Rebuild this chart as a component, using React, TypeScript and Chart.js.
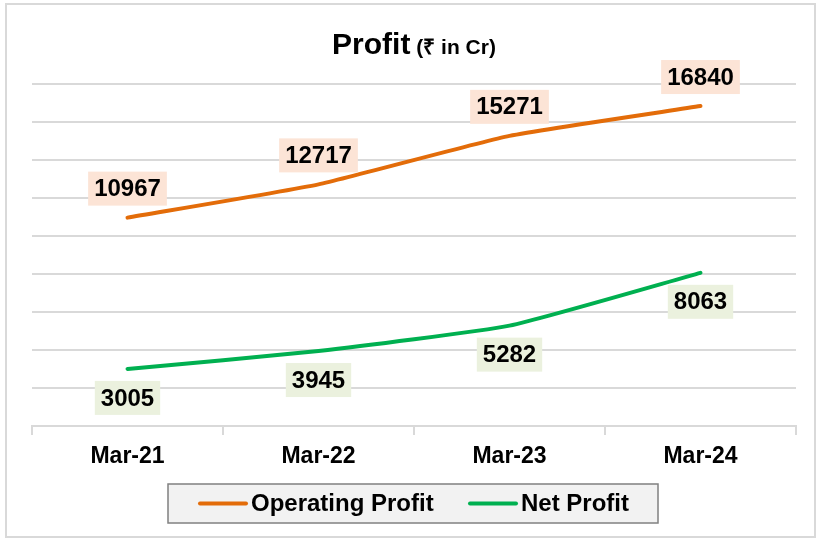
import React, { useEffect, useRef } from "react";
import { Chart, registerables } from "chart.js";

Chart.register(...registerables);

const categories = ["Mar-21", "Mar-22", "Mar-23", "Mar-24"];
const operatingProfit = [10967, 12717, 15271, 16840];
const netProfit = [3005, 3945, 5282, 8063];
const seriesNames = ["Operating Profit", "Net Profit"];
const titleMain = "Profit";
const titleSub = " (₹ in Cr)";

const ORANGE = "#E36C09";
const GREEN = "#00B050";
const GRID = "#D9D9D9";
const FONT = "'Liberation Sans', Arial, sans-serif";

const framePlugin = {
  id: "frame",
  beforeDraw(chart: any) {
    const ctx = chart.ctx;
    ctx.save();
    ctx.fillStyle = "#FFFFFF";
    ctx.fillRect(0, 0, chart.width, chart.height);
    ctx.strokeStyle = "#D9D9D9";
    ctx.lineWidth = 2;
    ctx.strokeRect(6, 4, 809, 533);
    ctx.restore();
  },
  afterDraw(chart: any) {
    const ctx = chart.ctx;
    ctx.save();
    // Title
    ctx.textBaseline = "alphabetic";
    ctx.font = `bold 30px ${FONT}`;
    const w1 = ctx.measureText(titleMain).width;
    ctx.font = `bold 21px ${FONT}`;
    const w2 = ctx.measureText(titleSub).width;
    const total = w1 + w2;
    const cx = (chart.chartArea.left + chart.chartArea.right) / 2;
    const x = cx - total / 2;
    ctx.fillStyle = "#000";
    ctx.textAlign = "left";
    ctx.font = `bold 30px ${FONT}`;
    ctx.fillText(titleMain, x, 54);
    ctx.font = `bold 21px ${FONT}`;
    ctx.fillText(titleSub, x + w1, 54);

    // Legend
    const lx = 168, ly = 484, lw = 490, lh = 39;
    ctx.fillStyle = "#F2F2F2";
    ctx.fillRect(lx, ly, lw, lh);
    ctx.strokeStyle = "#808080";
    ctx.lineWidth = 1.5;
    ctx.strokeRect(lx, ly, lw, lh);
    const items = [
      { name: seriesNames[0], color: ORANGE, x0: 200 },
      { name: seriesNames[1], color: GREEN, x0: 470 },
    ];
    const my = ly + lh / 2;
    ctx.font = `bold 24px ${FONT}`;
    ctx.textBaseline = "middle";
    for (const it of items) {
      ctx.strokeStyle = it.color;
      ctx.lineWidth = 4;
      ctx.lineCap = "round";
      ctx.beginPath();
      ctx.moveTo(it.x0, my);
      ctx.lineTo(it.x0 + 46, my);
      ctx.stroke();
      ctx.fillStyle = "#000";
      ctx.fillText(it.name, it.x0 + 51, my + 1);
    }
    ctx.restore();
  },
};

const labelPlugin = {
  id: "boxLabels",
  afterDatasetsDraw(chart: any) {
    const ctx = chart.ctx;
    ctx.save();
    ctx.font = `bold 24px ${FONT}`;
    ctx.textAlign = "center";
    ctx.textBaseline = "middle";
    chart.data.datasets.forEach((ds: any, di: number) => {
      const meta = chart.getDatasetMeta(di);
      const off = ds.labelOffset;
      meta.data.forEach((pt: any, i: number) => {
        const text = String(ds.data[i]);
        const tw = ctx.measureText(text).width;
        const bw = tw + 12;
        const bh = 34;
        const cx = pt.x;
        const cy = pt.y + off;
        ctx.fillStyle = ds.labelBg;
        ctx.fillRect(cx - bw / 2, cy - bh / 2, bw, bh);
        ctx.fillStyle = "#000";
        ctx.fillText(text, cx, cy + 1);
      });
    });
    ctx.restore();
  },
};

export default function App() {
  const ref = useRef<HTMLCanvasElement>(null);
  useEffect(() => {
    document.body.style.margin = "0";
    const chart = new Chart(ref.current as HTMLCanvasElement, {
      type: "line",
      data: {
        labels: categories,
        datasets: [
          {
            label: seriesNames[0],
            data: operatingProfit,
            borderColor: ORANGE,
            borderWidth: 4,
            pointRadius: 0,
            tension: 0.15,
            borderCapStyle: "round",
            labelOffset: -29,
            labelBg: "#FCE4D6",
          } as any,
          {
            label: seriesNames[1],
            data: netProfit,
            borderColor: GREEN,
            borderWidth: 4,
            pointRadius: 0,
            tension: 0.15,
            borderCapStyle: "round",
            labelOffset: 29,
            labelBg: "#EBF1DE",
          } as any,
        ],
      },
      options: {
        responsive: false,
        devicePixelRatio: 1,
        animation: false,
        layout: { padding: { left: 32, right: 24, top: 84, bottom: 0 } },
        plugins: {
          legend: { display: false },
          title: { display: false },
          tooltip: { enabled: false },
        },
        scales: {
          x: {
            offset: true,
            grid: {
              offset: true,
              drawOnChartArea: false,
              drawTicks: true,
              tickLength: 9,
              color: GRID,
              lineWidth: 2,
            },
            border: { display: true, color: GRID, width: 2 },
            ticks: {
              color: "#000",
              font: { family: FONT, size: 23, weight: "bold" },
              padding: 8,
              maxRotation: 0,
            },
            afterFit(scale: any) {
              scale.height = 114;
            },
          },
          y: {
            min: 0,
            max: 18000,
            ticks: { display: false, stepSize: 2000 },
            grid: { color: GRID, lineWidth: 2, drawTicks: false },
            border: { display: false },
            afterFit(scale: any) {
              scale.width = 0;
            },
          },
        },
      },
      plugins: [framePlugin, labelPlugin],
    });
    return () => chart.destroy();
  }, []);
  return (
    <div style={{ width: 820, height: 540 }}>
      <canvas ref={ref} width={820} height={540} style={{ display: "block" }} />
    </div>
  );
}
